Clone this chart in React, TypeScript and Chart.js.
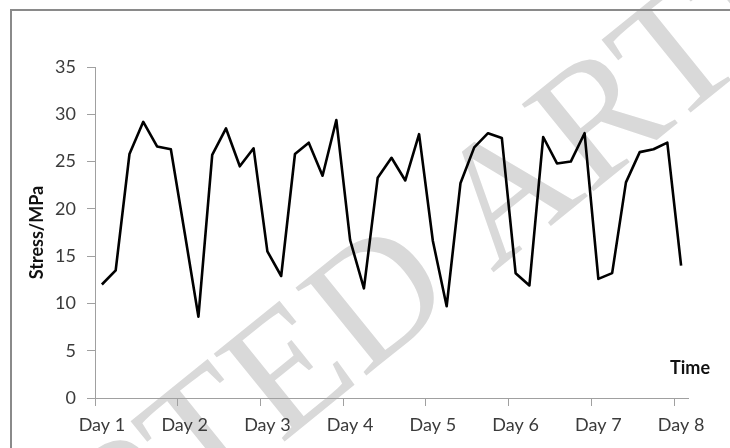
import { useEffect, useRef } from 'react';
import { Chart, registerables } from 'chart.js';

Chart.register(...registerables);

// Daily labels; six readings are taken per day, the last reading opens Day 8.
const days = ['Day 1', 'Day 2', 'Day 3', 'Day 4', 'Day 5', 'Day 6', 'Day 7', 'Day 8'];
const readingsPerDay = 6;

// Stress readings in MPa.
const stress = [
  12.0, 13.5, 25.8, 29.2, 26.6, 26.3,
  17.5, 8.6, 25.7, 28.5, 24.5, 26.4,
  15.5, 12.9, 25.8, 27.0, 23.5, 29.4,
  16.7, 11.6, 23.3, 25.4, 23.0, 27.9,
  16.6, 9.7, 22.7, 26.5, 28.0, 27.5,
  13.2, 11.9, 27.6, 24.8, 25.0, 28.0,
  12.6, 13.2, 22.8, 26.0, 26.3, 27.0,
  14.0,
];

const yMin = 0;
const yMax = 35;
const yStep = 5;

const yTitle = 'Stress/MPa';
const xTitle = 'Time';
const watermark = 'ACCEPTED ARTICLE';

const FONT = 'Lato, "Open Sans", sans-serif';
const AXIS_GREY = '#a0a0a0';
const TEXT_GREY = '#3b3b3b';

export default function App() {
  const canvasRef = useRef<HTMLCanvasElement | null>(null);

  useEffect(() => {
    const canvas = canvasRef.current;
    if (!canvas) return;

    const labels = stress.map((_, i) =>
      i % readingsPerDay === 0 ? days[i / readingsPerDay] : ''
    );

    const decorations = {
      id: 'decorations',
      beforeDraw(chart: Chart) {
        const { ctx } = chart;
        ctx.save();
        ctx.translate(380, 306);
        ctx.rotate((-39 * Math.PI) / 180);
        ctx.font = '172px "Liberation Serif", "DejaVu Serif", serif';
        ctx.fillStyle = '#d9d9d9';
        ctx.textAlign = 'center';
        ctx.textBaseline = 'middle';
        ctx.fillText(watermark, 0, 0);
        ctx.restore();
      },
      afterDraw(chart: Chart) {
        const { ctx, chartArea } = chart;
        ctx.save();
        ctx.font = `bold 18px ${FONT}`;
        ctx.fillStyle = '#111';
        ctx.textAlign = 'center';
        ctx.textBaseline = 'middle';
        ctx.fillText(xTitle, chartArea.right + 2, chartArea.bottom - 30);
        ctx.strokeStyle = '#8a8a8a';
        ctx.lineWidth = 2;
        ctx.strokeRect(11, 10, 760, 480);
        ctx.restore();
      },
    };

    const chart = new Chart(canvas, {
      type: 'line',
      data: {
        labels,
        datasets: [
          {
            data: stress,
            borderColor: '#000',
            borderWidth: 2.6,
            borderJoinStyle: 'round',
            pointRadius: 0,
            tension: 0,
            fill: false,
          },
        ],
      },
      options: {
        animation: false,
        responsive: false,
        events: [],
        layout: { padding: { left: 0, top: 67, right: 42, bottom: 0 } },
        plugins: {
          legend: { display: false },
          tooltip: { enabled: false },
        },
        scales: {
          x: {
            type: 'category',
            offset: true,
            afterFit(scale: any) {
              scale.height = 50;
            },
            border: { display: true, color: AXIS_GREY, width: 1 },
            grid: {
              offset: true,
              drawOnChartArea: false,
              drawTicks: true,
              tickLength: 8,
              color: (ctx: any) =>
                typeof ctx.index === 'number' && ctx.index % readingsPerDay === 0
                  ? AXIS_GREY
                  : 'rgba(0,0,0,0)',
            },
            ticks: {
              autoSkip: false,
              maxRotation: 0,
              minRotation: 0,
              padding: 8,
              color: TEXT_GREY,
              font: { family: FONT, size: 18 },
            },
          },
          y: {
            min: yMin,
            max: yMax,
            afterFit(scale: any) {
              scale.width = 95;
            },
            border: { display: true, color: AXIS_GREY, width: 1 },
            grid: {
              drawOnChartArea: false,
              drawTicks: true,
              tickLength: 8,
              color: AXIS_GREY,
            },
            ticks: {
              stepSize: yStep,
              padding: 11,
              color: TEXT_GREY,
              font: { family: FONT, size: 18 },
            },
            title: {
              display: true,
              text: yTitle,
              color: '#111',
              padding: { top: 26, bottom: 0 },
              font: { family: FONT, size: 18, weight: 'bold' },
            },
          },
        },
      },
      plugins: [decorations],
    });

    return () => chart.destroy();
  }, []);

  return (
    <div
      style={{
        position: 'absolute',
        left: 0,
        top: 0,
        width: 730,
        height: 448,
        background: '#fff',
        overflow: 'hidden',
      }}
    >
      <canvas ref={canvasRef} width={730} height={448} style={{ display: 'block' }} />
    </div>
  );
}
